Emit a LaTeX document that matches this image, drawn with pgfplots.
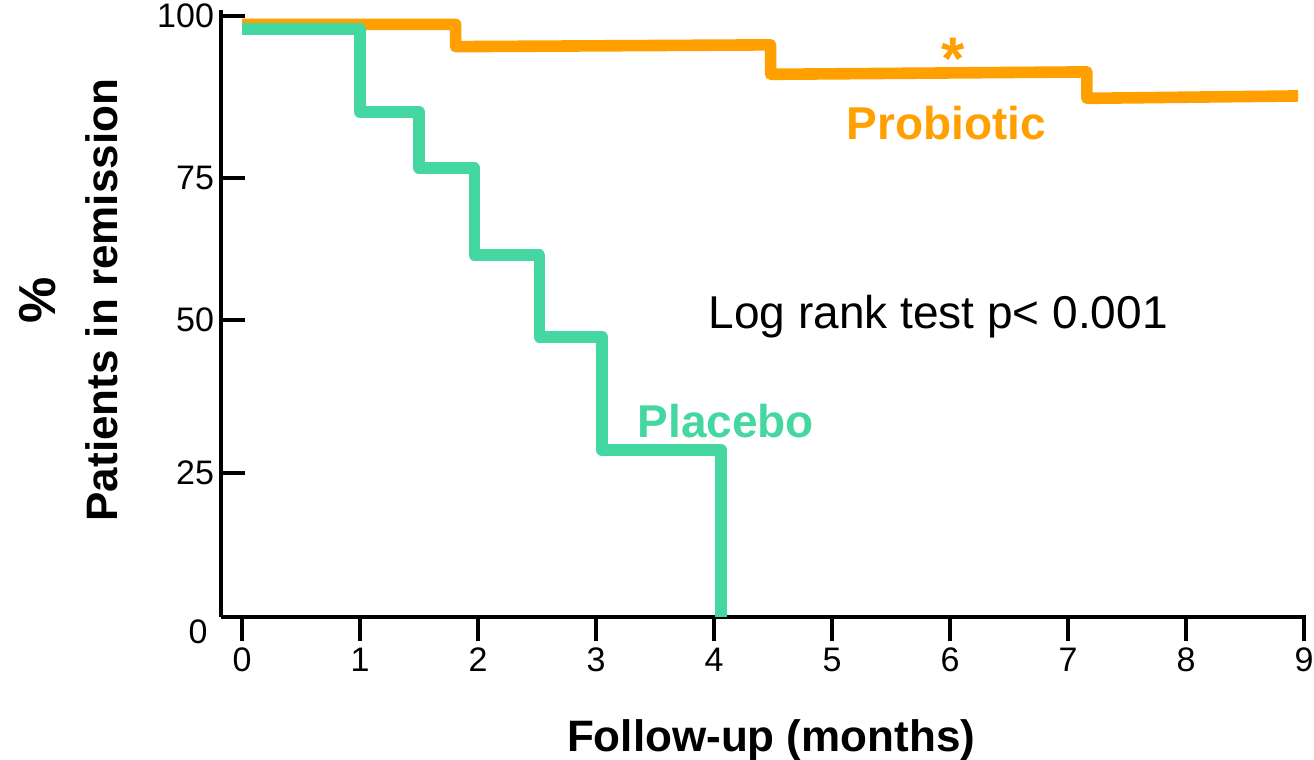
\documentclass[border=0pt]{standalone}
\usepackage{fontspec}
\setmainfont{Liberation Sans}
\usepackage{pgfplots}
\pgfplotsset{compat=1.18}
\definecolor{orng}{RGB}{255,159,0}
\definecolor{grn}{RGB}{69,215,161}
\begin{document}
\begin{tikzpicture}
\begin{axis}[
  scale only axis, width=542.5pt, height=303.5pt,
  xmin=-0.178, xmax=9.017, ymin=0, ymax=101,
  axis lines*=left,
  axis line style={line width=2pt},
  xtick={0,1,2,3,4,5,6,7,8,9},
  ytick={24,49.4,73,100}, yticklabels={25,50,75,100},
  xtick align=outside, ytick align=inside,
  major tick length=12pt,
  every tick/.style={black, line width=2pt},
  tick label style={font=\fontsize{17}{20}\selectfont},
  /pgf/number format/assume math mode=true,
  clip=false,
  xlabel={Follow-up (months)},
  xlabel style={font=\bfseries\fontsize{22}{26}\selectfont, at={(axis description cs:0.507,-0.2224)}, anchor=base, inner sep=0pt},
  ylabel={{\fontsize{26}{30}\selectfont\%}\\Patients in remission},
  ylabel style={align=center, font=\bfseries\fontsize{22}{31}\selectfont, at={(axis description cs:-0.1405,0.522)}, anchor=center, inner sep=0pt},
]
\addplot[orng, line width=5.8pt, line join=round, line cap=butt] coordinates {
  (0,98.6) (1.81,98.6) (1.81,94.9) (4.48,95.2) (4.48,90.3) (7.16,90.7) (7.16,86.3) (8.95,86.7)
};
\addplot[grn, line width=5.8pt, line join=round, line cap=butt] coordinates {
  (0,97.8) (1.0,97.8) (1.0,84.0) (1.50,84.0) (1.50,74.7) (1.97,74.7) (1.97,60.2) (2.52,60.2) (2.52,46.6) (3.05,46.6) (3.05,27.8) (4.06,27.8) (4.06,0)
};
\node[anchor=base, inner sep=0pt, text=orng, font=\bfseries\fontsize{23}{27}\selectfont] at (axis cs:5.97,79.4) {Probiotic};
\node[anchor=north, inner sep=0pt, text=orng, font=\bfseries\fontsize{30}{34}\selectfont] at (axis cs:6.03,96.3) {*};
\node[anchor=base, inner sep=0pt, text=grn, font=\bfseries\fontsize{23}{27}\selectfont] at (axis cs:4.10,29.9) {Placebo};
\node[anchor=base, inner sep=0pt, font=\fontsize{23}{27}\selectfont] at (axis cs:5.90,48.0) {Log rank test p< 0.001};
\node[anchor=base east, inner sep=0pt, font=\fontsize{17}{20}\selectfont] at (axis cs:-0.288,-4.33) {0};
\coordinate (bl) at (rel axis cs:0,0);
\end{axis}
\pgfresetboundingbox
\path[use as bounding box] ([shift={(-110.5pt,-71.5pt)}]bl) rectangle ++(657pt,380pt);
\end{tikzpicture}
\end{document}
